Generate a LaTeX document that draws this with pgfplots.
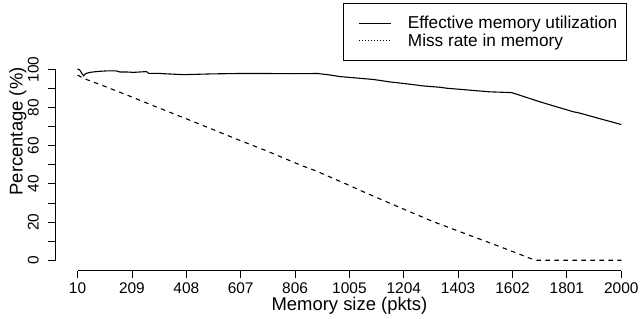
\documentclass[border=0pt]{standalone}
\usepackage{fontspec}
\setmainfont{Liberation Sans}
\usepackage{pgfplots}
\pgfplotsset{compat=1.18}
\begin{document}
\begin{tikzpicture}
\begin{axis}[
  scale only axis,
  width=584.2bp, height=270.6bp,
  xmin=-69.6, xmax=2068.6, ymin=-5.4, ymax=136.3,
  clip=false,
  axis x line*=bottom, axis y line*=left,
  axis line style={draw=none,-},
  xtick={10,209,408,607,806,1005,1204,1403,1602,1801,2000},
  xticklabels={10,209,408,607,806,1005,1204,1403,1602,1801,2000},
  scaled x ticks=false,
  ytick={0,10,...,100},
  yticklabels={0,,20,,40,,60,,80,,100},
  minor tick num=0,
  tick align=outside,
  major tick length=7.5bp,
  tick style={black, line width=0.8bp},
  /pgf/number format/assume math mode=true,
  xticklabel style={font=\fontsize{15.5}{18}\selectfont, inner sep=0pt, anchor=north},
  yticklabel style={font=\fontsize{15.5}{18}\selectfont, inner sep=0pt, rotate=90, anchor=south},
  xticklabel shift=4.1bp,
  yticklabel shift=9.3bp,
  legend cell align=left,
  legend image code/.code={\path (0bp,0bp); \draw[#1] (7.6bp,0bp) -- (39.6bp,0bp);},
  legend style={at={(axis cs:2019,134.9)}, anchor=north east, draw=black, line width=0.8bp, fill=white,
    font=\fontsize{17.3}{20}\selectfont, inner xsep=7.2bp, inner ysep=11.5bp, row sep=0.8bp,
    nodes={inner xsep=1.5bp, inner ysep=1.5bp},
    /tikz/every odd column/.append style={column sep=15bp}},
]
\addlegendimage{black, line width=1bp}
\addlegendentry{Effective memory utilization}
\addlegendimage{black, line width=1bp, dash pattern=on 1bp off 2bp}
\addlegendentry{Miss rate in memory}

\addplot[black, line width=1.1bp, forget plot] coordinates {
(10,100.2) (18,99.6) (25,98.0) (32,96.6) (40,97.8) (55,98.4) (85,98.9) (120,99.2) (150,99.2)
(165,98.6) (190,98.6) (215,98.4) (250,98.7) (262,98.8) (270,97.9) (300,97.9) (340,97.6)
(398,97.2) (450,97.4) (500,97.6) (600,97.8) (700,97.8) (800,97.7) (890,97.8) (930,97.1)
(970,96.2) (1019,95.6) (1092,94.7) (1153,93.4) (1215,92.4) (1275,91.3) (1336,90.6) (1361,90.1)
(1444,89.1) (1519,88.2) (1560,88.0) (1599,87.8) (1640,85.9) (1678,84.1) (1702,83.0)
(1760,80.5) (1824,77.8) (1850,77.0) (1920,74.2) (2000,71.1)
};
\addplot[black, line width=1.1bp, dash pattern=on 4.5bp off 4.5bp, forget plot] coordinates {
(10,97.0) (31,95.3) (100,91.6) (200,86.0) (300,80.2) (434,72.6) (600,63.0) (700,57.4)
(830,49.6) (879,47.0) (1000,39.5) (1068,35.1) (1200,27.0) (1312,20.2) (1450,12.8)
(1556,7.1) (1620,3.6) (1666,1.0) (1690,0) (2000,0)
};

\draw[line width=0.8bp] (axis cs:10,-5.4) -- (axis cs:2000,-5.4);
\draw[line width=0.8bp] (axis cs:-69.6,0) -- (axis cs:-69.6,100);
\node[anchor=base, font=\fontsize{18.5}{22}\selectfont] at (axis cs:1005,-26.5) {Memory size (pkts)};
\node[rotate=90, anchor=base, font=\fontsize{18.5}{22}\selectfont] at (axis cs:-191,67.5) {Percentage (\%)};
\path (axis cs:-274,-30.7) rectangle (axis cs:2068.6,136.3);
\end{axis}
\end{tikzpicture}
\end{document}
